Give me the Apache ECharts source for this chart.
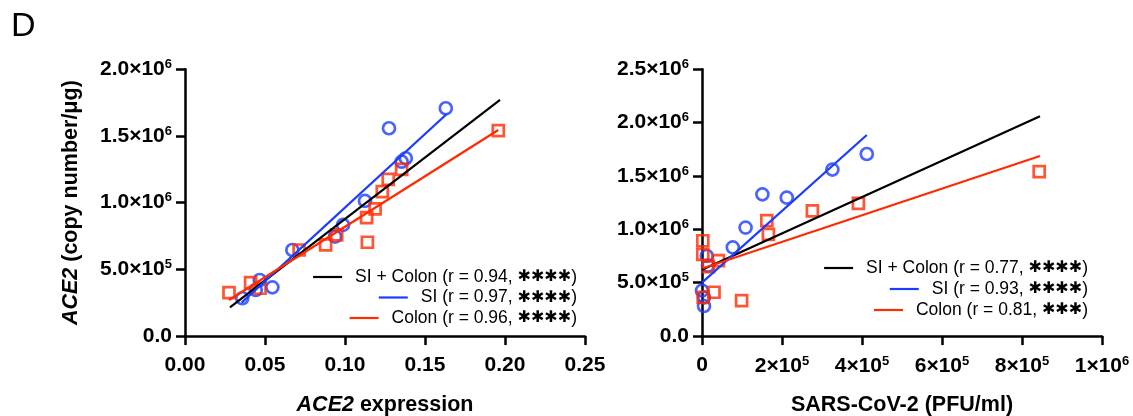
<!DOCTYPE html>
<html>
<head>
<meta charset="utf-8">
<script src="https://cdn.jsdelivr.net/npm/echarts@6/dist/echarts.min.js"></script>
<style>
html,body{margin:0;padding:0;background:#fff;}
#c{width:1133px;height:416px;}
</style>
</head>
<body>
<div id="c"></div>
<script>
// ---------- data ----------
// Left panel: ACE2 expression vs ACE2 copy number/ug
const leftSI = [[0.163,1708000],[0.1275,1558000],[0.138,1333000],[0.1354,1307000],[0.1125,1013000],[0.0988,833000],[0.0938,745000],[0.0671,645000],[0.0467,420000],[0.0546,365000],[0.0442,345000],[0.0358,283000]];
const leftColon = [[0.1958,1540000],[0.1354,1250000],[0.127,1175000],[0.1233,1083000],[0.1188,953000],[0.1135,888000],[0.114,703000],[0.0948,758000],[0.0879,683000],[0.0713,645000],[0.041,400000],[0.0469,358000],[0.0275,325000]];
const leftAllFit = [[0.0281,215000],[0.1969,1770000]];
const leftSIFit = [[0.0354,250000],[0.1636,1665000]];
const leftColonFit = [[0.0275,270000],[0.1958,1545000]];

// Right panel: SARS-CoV-2 PFU/ml vs ACE2 copy number/ug
const rightSI = [[412000,1706000],[326000,1560000],[212000,1297000],[151000,1328000],[109000,1016000],[77000,831000],[12000,750000],[15000,660000],[0,425000],[5000,363000],[5000,281000]];
const rightColon = [[843000,1540000],[391000,1244000],[276000,1172000],[162000,1081000],[166000,953000],[99000,331000],[30000,410000],[41000,706000],[16000,650000],[2000,893000],[2000,766000],[3000,363000]];
const rightAllFit = [[0,620000],[845000,2060000]];
const rightSIFit = [[0,500000],[412000,1884000]];
const rightColonFit = [[2000,635000],[845000,1687000]];

// legend texts
const leftNames = ['SI + Colon (r = 0.94, {st|✱✱✱✱})', 'SI (r = 0.97, {st|✱✱✱✱})', 'Colon (r = 0.96, {st|✱✱✱✱})'];
const rightNames = ['SI + Colon (r = 0.77, {st|✱✱✱✱})', 'SI (r = 0.93, {st|✱✱✱✱})', 'Colon (r = 0.81, {st|✱✱✱})'];

// tick labels
const leftXTicks = ['0.00','0.05','0.10','0.15','0.20','0.25'];
const leftYTicks = ['0.0','5.0×10{s|5}','1.0×10{s|6}','1.5×10{s|6}','2.0×10{s|6}'];
const rightXTicks = ['0','2×10{s|5}','4×10{s|5}','6×10{s|5}','8×10{s|5}','1×10{s|6}'];
const rightYTicks = ['0.0','5.0×10{s|5}','1.0×10{s|6}','1.5×10{s|6}','2.0×10{s|6}','2.5×10{s|6}'];

// ---------- styling ----------
const FONT = '"Liberation Sans", Arial, sans-serif';
const BLUE = '#1a3cff';
const RED = '#ff2a00';
const BLACK = '#000000';

const chart = echarts.init(document.getElementById('c'), null, {renderer:'canvas'});

const tickRich = {s:{fontSize:13, fontWeight:'bold', fontFamily:FONT, color:'#000', padding:[0,0,10,0]}};
function axisCommon(){
  return {
    axisLine:{show:true, onZero:false, lineStyle:{color:'#000', width:2.5}},
    axisTick:{show:true, inside:false, length:9, lineStyle:{color:'#000', width:2.5}},
    splitLine:{show:false},
    nameTextStyle:{color:'#000', fontSize:21.5, fontWeight:'bold', fontFamily:FONT,
      rich:{i:{fontStyle:'italic', fontWeight:'bold', fontSize:21.5, fontFamily:FONT, color:'#000'}}}
  };
}
function xAxis(idx, min, max, interval, ticks, name){
  return Object.assign(axisCommon(), {
    type:'value', gridIndex:idx, min:min, max:max, interval:interval,
    name:name, nameLocation:'middle', nameGap:58,
    axisLabel:{color:'#000', fontSize:21, fontWeight:'bold', fontFamily:FONT, margin:19,
      formatter:(v,i)=>ticks[i], rich:tickRich}
  });
}
function yAxis(idx, min, max, interval, ticks, name){
  return Object.assign(axisCommon(), {
    type:'value', gridIndex:idx, min:min, max:max, interval:interval,
    name:name, nameLocation:'middle', nameGap:103, nameRotate:90,
    axisLabel:{color:'#000', fontSize:21, fontWeight:'bold', fontFamily:FONT, margin:13,
      formatter:(v,i)=>ticks[i], rich:tickRich}
  });
}
function scatter(name, idx, data, color, symbol, size){
  return {type:'scatter', name:name, xAxisIndex:idx, yAxisIndex:idx, data:data,
    symbol:symbol, symbolSize:size, z:2,
    itemStyle:{color:'rgba(0,0,0,0)', borderColor:color, borderWidth:2.7}};
}
function fit(name, idx, data, color){
  return {type:'line', name:name, xAxisIndex:idx, yAxisIndex:idx, data:data,
    showSymbol:false, symbol:'none', z:3, silent:true,
    lineStyle:{color:color, width:2.2}, itemStyle:{color:color}};
}
function legend(name, right, center){
  return {data:[name], right:right, top:center-9, padding:0, orient:'horizontal',
    icon:'rect', itemWidth:29, itemHeight:2.2, selectedMode:false,
    textStyle:{color:'#000', fontSize:17.5, fontFamily:FONT, lineHeight:18, padding:[0,0,0,8],
      rich:{st:{fontSize:16, fontFamily:'"DejaVu Sans", sans-serif', fontWeight:'bold', color:'#000'}}}};
}

const option = {
  animation:false,
  backgroundColor:'#fff',
  grid:[
    {left:185, top:69.3, width:400, height:266.7, containLabel:false, outerBoundsMode:'none'},
    {left:702, top:69.3, width:400, height:266.7, containLabel:false, outerBoundsMode:'none'}
  ],
  xAxis:[
    xAxis(0, 0, 0.25, 0.05, leftXTicks, '{i|ACE2} expression'),
    xAxis(1, 0, 1000000, 200000, rightXTicks, 'SARS-CoV-2 (PFU/ml)')
  ],
  yAxis:[
    yAxis(0, 0, 2000000, 500000, leftYTicks, '{i|ACE2} (copy number/μg)'),
    yAxis(1, 0, 2500000, 500000, rightYTicks, '')
  ],
  legend:[
    legend(leftNames[0], 556, 277),
    legend(leftNames[1], 556, 297.5),
    legend(leftNames[2], 556, 318),
    legend(rightNames[0], 45, 268),
    legend(rightNames[1], 45, 289),
    legend(rightNames[2], 45, 310)
  ],
  graphic:[
    {type:'text', left:11, top:10, style:{text:'D', fontSize:34, fontFamily:FONT, fill:'#000'}}
  ],
  series:[
    scatter('leftSIpts', 0, leftSI, BLUE, 'circle', 12),
    scatter('leftColonpts', 0, leftColon, RED, 'rect', 11),
    fit(leftNames[0], 0, leftAllFit, BLACK),
    fit(leftNames[1], 0, leftSIFit, BLUE),
    fit(leftNames[2], 0, leftColonFit, RED),
    scatter('rightSIpts', 1, rightSI, BLUE, 'circle', 12),
    scatter('rightColonpts', 1, rightColon, RED, 'rect', 11),
    fit(rightNames[0], 1, rightAllFit, BLACK),
    fit(rightNames[1], 1, rightSIFit, BLUE),
    fit(rightNames[2], 1, rightColonFit, RED)
  ]
};
chart.setOption(option);
</script>
</body>
</html>
